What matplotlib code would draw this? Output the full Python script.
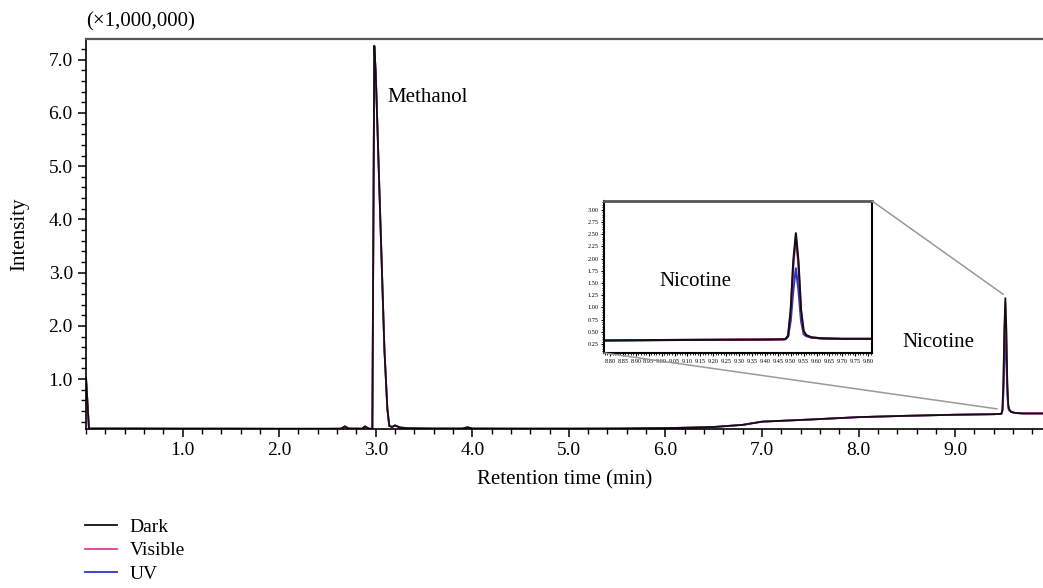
import matplotlib
matplotlib.use("Agg")
import matplotlib.pyplot as plt
from matplotlib.patches import ConnectionPatch
from matplotlib.ticker import MultipleLocator, FormatStrFormatter

plt.rcParams["font.family"] = ["Liberation Serif", "DejaVu Serif"]

# chromatogram (intensity in millions)
base_t = [0.0, 0.03, 0.5, 1.0, 1.5, 2.0, 2.5, 2.64, 2.68, 2.72, 2.86, 2.89, 2.93, 2.965,
          2.985, 3.0, 3.05, 3.09, 3.12, 3.14, 3.17, 3.2, 3.25, 3.35, 3.6, 3.9, 3.95, 4.0,
          4.5, 5.0, 5.5, 6.0, 6.3, 6.5, 6.8, 7.0, 7.5, 8.0, 8.5, 9.0, 9.2, 9.4, 9.47]
base_i = [1.02, 0.07, 0.07, 0.068, 0.068, 0.066, 0.066, 0.068, 0.11, 0.07, 0.068, 0.11, 0.066, 0.066,
          7.26, 6.75, 3.85, 1.55, 0.45, 0.12, 0.1, 0.13, 0.09, 0.075, 0.07, 0.07, 0.095, 0.07,
          0.068, 0.068, 0.07, 0.078, 0.09, 0.1, 0.14, 0.2, 0.24, 0.285, 0.31, 0.33, 0.335, 0.34, 0.345]

nic_t = [9.48, 9.49, 9.50, 9.51, 9.52, 9.53, 9.54, 9.55, 9.56, 9.58, 9.62, 9.70, 9.82, 9.95]
dark_nic = [0.35, 0.42, 0.95, 1.95, 2.52, 1.95, 0.95, 0.52, 0.43, 0.385, 0.365, 0.355, 0.355, 0.355]
visible_nic = [0.35, 0.42, 0.92, 1.85, 2.44, 1.85, 0.92, 0.5, 0.43, 0.385, 0.365, 0.355, 0.355, 0.355]
uv_nic = [0.35, 0.40, 0.72, 1.35, 1.80, 1.35, 0.72, 0.45, 0.41, 0.38, 0.362, 0.352, 0.352, 0.352]

series = ["Dark", "Visible", "UV"]
colors = {"Dark": "#111111", "Visible": "#e6399b", "UV": "#2b36c9"}
peaks = {"Dark": dark_nic, "Visible": visible_nic, "UV": uv_nic}

t_all = base_t + nic_t

fig = plt.figure(figsize=(10.43, 5.88), dpi=100)
ax = fig.add_axes([0.0825, 0.2704, 0.9175, 0.6633])

lines = {}
for name in ["UV", "Visible", "Dark"]:
    lines[name], = ax.plot(t_all, base_i + peaks[name], color=colors[name], lw=1.3, label=name)

ax.set_xlim(0, 9.91)
ax.set_ylim(0.062, 7.39)
ax.xaxis.set_major_locator(MultipleLocator(1.0))
ax.xaxis.set_minor_locator(MultipleLocator(0.2))
ax.yaxis.set_major_locator(MultipleLocator(1.0))
ax.yaxis.set_minor_locator(MultipleLocator(0.2))
ax.xaxis.set_major_formatter(FormatStrFormatter("%.1f"))
ax.yaxis.set_major_formatter(FormatStrFormatter("%.1f"))
ax.set_xticks([1, 2, 3, 4, 5, 6, 7, 8, 9])
ax.set_yticks([1, 2, 3, 4, 5, 6, 7])
ax.tick_params(which="major", length=6, width=1.1, labelsize=14, direction="out")
ax.tick_params(which="minor", length=3.5, width=1.0, direction="out")
ax.spines["right"].set_visible(False)
ax.spines["top"].set_color("#555555")
ax.spines["top"].set_linewidth(1.6)
ax.spines["left"].set_linewidth(1.2)
ax.spines["bottom"].set_linewidth(1.2)
ax.set_xlabel("Retention time (min)", fontsize=15, labelpad=8)
ax.set_ylabel("Intensity", fontsize=15, labelpad=14)
ax.text(0, 1.02, "(\u00d71,000,000)", transform=ax.transAxes, fontsize=15,
        ha="left", va="bottom")
ax.text(3.12, 6.29, "Methanol", fontsize=15, va="center")
ax.text(8.45, 1.69, "Nicotine", fontsize=15, va="center")

# inset zoom on nicotine
ins = fig.add_axes([0.5791, 0.3997, 0.2570, 0.2585])
for name in ["UV", "Visible", "Dark"]:
    ins.plot(t_all, base_i + peaks[name], color=colors[name], lw=1.5)
ins.set_xlim(8.777, 9.815)
ins.set_ylim(0.065, 3.18)
ins.xaxis.set_major_locator(MultipleLocator(0.05))
ins.xaxis.set_minor_locator(MultipleLocator(0.01))
ins.yaxis.set_major_locator(MultipleLocator(0.25))
ins.yaxis.set_minor_locator(MultipleLocator(0.05))
ins.xaxis.set_major_formatter(FormatStrFormatter("%.2f"))
ins.yaxis.set_major_formatter(FormatStrFormatter("%.2f"))
ins.tick_params(which="major", length=2.5, width=0.8, labelsize=4.5, pad=1.5)
ins.tick_params(which="minor", length=1.5, width=0.6)
for s in ["left", "bottom", "right"]:
    ins.spines[s].set_linewidth(1.5)
ins.spines["top"].set_color("#555555")
ins.spines["top"].set_linewidth(2.0)
ins.text(8.99, 1.54, "Nicotine", fontsize=15, va="center")

for xy_ins, xy_main in [((1, 1), (9.50, 2.59)), ((0, 0), (9.435, 0.44))]:
    con = ConnectionPatch(xyA=xy_ins, coordsA=ins.transAxes, xyB=xy_main, coordsB=ax.transData,
                          color="#999999", lw=1.1)
    fig.add_artist(con)

fig.legend([lines[n] for n in series], series, loc="upper left",
           bbox_to_anchor=(0.072, 0.135), frameon=False, fontsize=14,
           handlelength=1.65, handletextpad=0.65, labelspacing=0.3, borderpad=0)

fig.savefig("out.png", dpi=100)
